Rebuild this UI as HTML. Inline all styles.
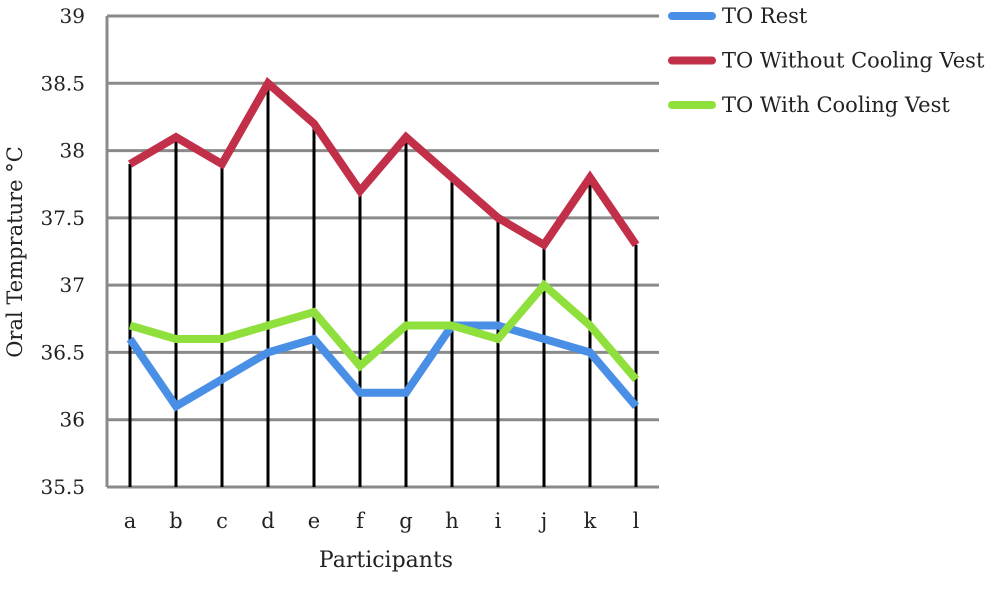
<!DOCTYPE html>
<html><head><meta charset="utf-8"><style>
body{margin:0;background:#fff;}
svg text{font-family:"DejaVu Serif","Liberation Serif",serif;fill:#222;}
</style></head><body>
<svg id="chart" width="1000" height="589" xmlns="http://www.w3.org/2000/svg">
<g id="grid"></g><g id="drops"></g><g id="series"></g><g id="labels"></g>
<text transform="translate(22,252) rotate(-90)" text-anchor="middle" font-size="21">Oral Temprature °C</text>
<text x="386" y="567" text-anchor="middle" font-size="22">Participants</text>
<g id="legend"></g>
</svg>
<script>
const categories=["a","b","c","d","e","f","g","h","i","j","k","l"];
const restValues=[36.6,36.1,36.3,36.5,36.6,36.2,36.2,36.7,36.7,36.6,36.5,36.1];
const withoutVestValues=[37.9,38.1,37.9,38.5,38.2,37.7,38.1,37.8,37.5,37.3,37.8,37.3];
const withVestValues=[36.7,36.6,36.6,36.7,36.8,36.4,36.7,36.7,36.6,37.0,36.7,36.3];
const yTicks=[35.5,36,36.5,37,37.5,38,38.5,39];
const seriesNames=["TO Rest","TO Without Cooling Vest","TO With Cooling Vest"];
const NS="http://www.w3.org/2000/svg";
const x0=107,x1=659,yTop=16,yBot=487,yMin=35.5,yMax=39;
const bw=(x1-x0)/categories.length;
const xS=i=>x0+bw*(i+0.5);
const yS=v=>yBot-(v-yMin)/(yMax-yMin)*(yBot-yTop);
function mk(tag,attrs,parent){const e=document.createElementNS(NS,tag);for(const k in attrs)e.setAttribute(k,attrs[k]);document.getElementById(parent).appendChild(e);return e;}
yTicks.forEach(t=>{
 const l=mk("line",{x1:x0,x2:x1,y1:yS(t),y2:yS(t),stroke:"#8a8a8a","stroke-width":3},"grid");
 
 
 const tx=mk("text",{x:85,y:yS(t)+7,"text-anchor":"end","font-size":20},"labels");
 tx.textContent=t;
 
 
});
const ax=mk("line",{x1:x0,x2:x0,y1:yTop,y2:yBot,stroke:"#8a8a8a","stroke-width":3},"grid");


categories.forEach((c,i)=>{
 const top=Math.max(restValues[i],withoutVestValues[i],withVestValues[i]);
 const d=mk("line",{x1:xS(i),x2:xS(i),y1:yS(top),y2:yBot,stroke:"#000","stroke-width":3},"drops");
 
 
 const tx=mk("text",{x:xS(i),y:528,"text-anchor":"middle","font-size":21},"labels");
 tx.textContent=c;
 
 
});
const cols=["#4a8fe6","#c22f48","#8fe03c"];
[restValues,withoutVestValues,withVestValues].forEach((vals,s)=>{
 const p=mk("polyline",{points:vals.map((v,i)=>xS(i)+","+yS(v)).join(" "),fill:"none",stroke:cols[s],"stroke-width":8,"stroke-linejoin":"miter"},"series");
 
 
 const ly=16+s*44.5;
 const ll=mk("line",{x1:672,x2:712,y1:ly,y2:ly,stroke:cols[s],"stroke-width":8,"stroke-linecap":"round"},"legend");
 
 
 const lt=mk("text",{x:722,y:ly+7,"font-size":21},"legend");
 lt.textContent=seriesNames[s];
 
 
});
</script>
</body></html>
